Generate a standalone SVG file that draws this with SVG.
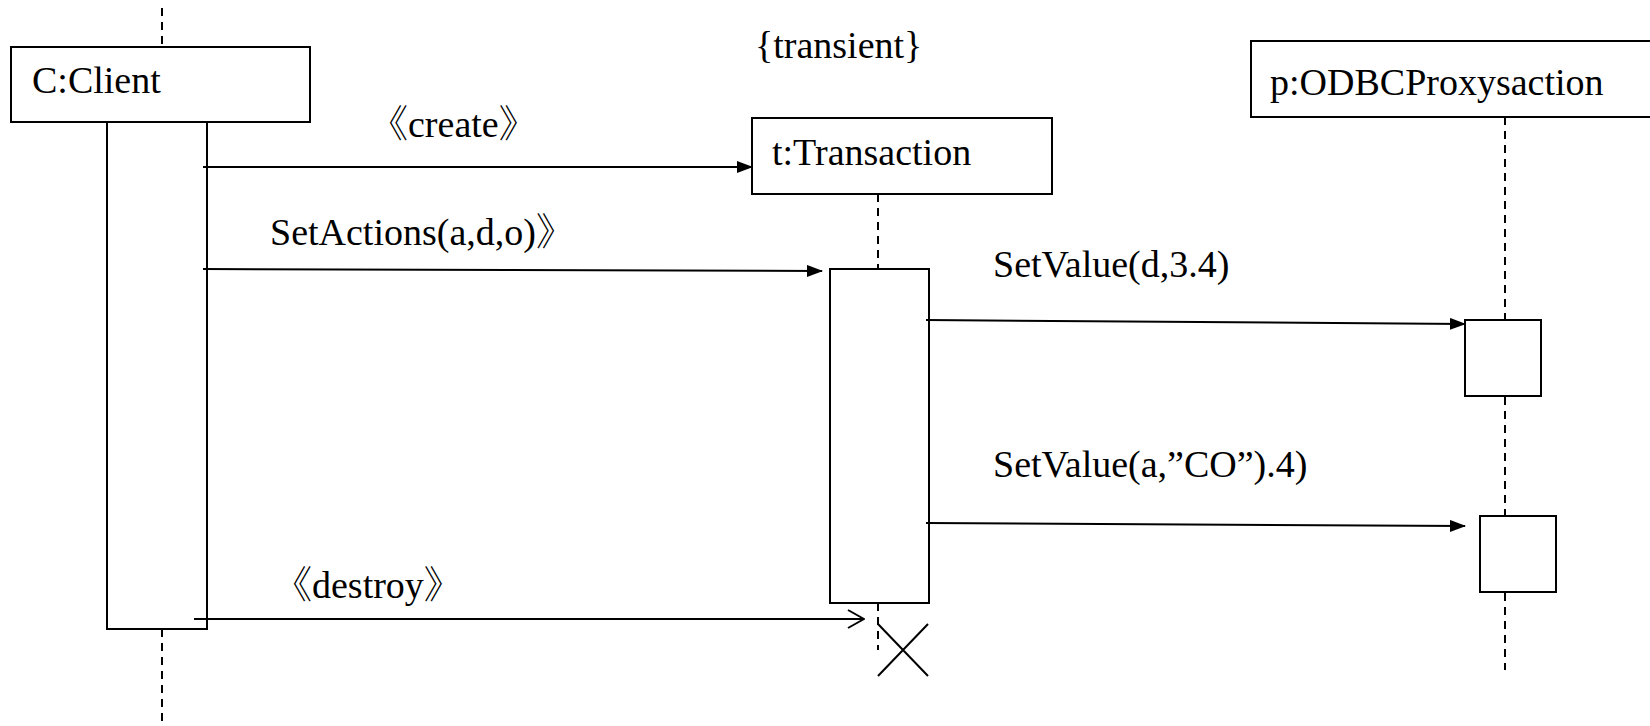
<svg xmlns="http://www.w3.org/2000/svg" width="1650" height="726" viewBox="0 0 1650 726">
<style>
.box{fill:#fff;stroke:#000;stroke-width:2}
.life{stroke:#000;stroke-width:2;stroke-dasharray:8,6;fill:none}
.msg{stroke:#000;stroke-width:2;fill:none}
text{font-family:"Liberation Serif","Times New Roman","Noto Serif CJK SC","Noto Sans CJK SC",serif;font-size:38px;fill:#000}
</style>
<defs>
<marker id="filled" markerWidth="16" markerHeight="12" refX="15" refY="6" orient="auto" markerUnits="userSpaceOnUse">
<path d="M0,0 L16,6 L0,12 Z" fill="#000"/>
</marker>
<marker id="open" markerWidth="18" markerHeight="20" refX="17" refY="10" orient="auto" markerUnits="userSpaceOnUse">
<path d="M1,1 L17,10 L1,19" fill="none" stroke="#000" stroke-width="2"/>
</marker>
</defs>
<rect width="1650" height="726" fill="#fff"/>
<g id="lifelines">
<line class="life" x1="162" y1="8" x2="162" y2="47"/>
<line class="life" x1="162" y1="629" x2="162" y2="726"/>
<line class="life" x1="878" y1="194" x2="878" y2="269"/>
<line class="life" x1="878" y1="603" x2="878" y2="650"/>
<line class="life" x1="1505" y1="117" x2="1505" y2="670"/>
</g>
<g id="client">
<rect class="box" x="11" y="47" width="299" height="75"/>
<text x="32" y="93">C:Client</text>
<rect class="box" x="107" y="122" width="100" height="507"/>
</g>
<g id="transaction">
<text x="755" y="58">{transient}</text>
<rect class="box" x="752" y="118" width="300" height="76"/>
<text x="772" y="165">t:Transaction</text>
<rect class="box" x="830" y="269" width="99" height="334"/>
<path d="M878,624 L928,676 M928,624 L878,676" stroke="#000" stroke-width="2"/>
</g>
<g id="proxy">
<rect class="box" x="1251" y="41" width="410" height="76"/>
<text x="1270" y="95">p:ODBCProxysaction</text>
<rect class="box" x="1465" y="320" width="76" height="76"/>
<rect class="box" x="1480" y="516" width="76" height="76"/>
</g>
<g id="connectors">
<line class="msg" x1="203" y1="167" x2="752" y2="167" marker-end="url(#filled)"/>
<text x="370" y="137">《create》</text>
<line class="msg" x1="203" y1="269" x2="822" y2="271" marker-end="url(#filled)"/>
<text x="270" y="245">SetActions(a,d,o)》</text>
<line class="msg" x1="926" y1="320" x2="1465" y2="324" marker-end="url(#filled)"/>
<text x="993" y="277">SetValue(d,3.4)</text>
<line class="msg" x1="926" y1="523" x2="1465" y2="526" marker-end="url(#filled)"/>
<text x="993" y="477">SetValue(a,”CO”).4)</text>
<line class="msg" x1="194" y1="619" x2="864" y2="619" marker-end="url(#open)"/>
<text x="274" y="598">《destroy》</text>
</g>
</svg>
